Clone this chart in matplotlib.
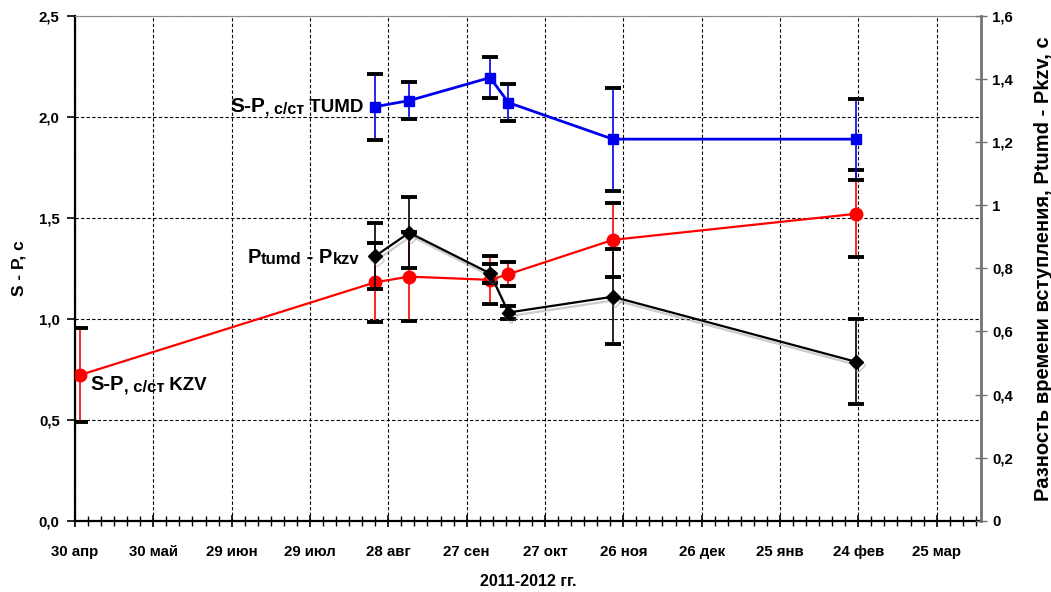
import datetime as dt
import numpy as np
import matplotlib
matplotlib.use('Agg')
import matplotlib.pyplot as plt
import matplotlib.dates as mdates
import matplotlib.patheffects as pe
from matplotlib.ticker import FixedLocator, FuncFormatter

# dates of measurements
dates_kzv = ['2011-05-02', '2011-08-23', '2011-09-05', '2011-10-06',
             '2011-10-13', '2011-11-22', '2012-02-23']
dates_tumd = dates_kzv[1:]

# S-P, station KZV (left axis)
sp_kzv = [0.722, 1.181, 1.209, 1.193, 1.221, 1.391, 1.52]
sp_kzv_err = [0.235, 0.195, 0.22, 0.12, 0.058, 0.185, 0.215]

# S-P, station TUMD (left axis)
sp_tumd = [2.051, 2.081, 2.195, 2.071, 1.89, 1.89]
sp_tumd_err = [0.163, 0.09, 0.103, 0.09, 0.255, 0.2]

# Ptumd - Pkzv (right axis)
dp = [0.839, 0.913, 0.784, 0.66, 0.71, 0.504]
dp_err = [0.106, 0.113, 0.03, 0.02, 0.15, 0.134]

x_start = '2011-04-30'
x_days = 347
tick_labels = ['30 апр', '30 май', '29 июн', '29 июл', '28 авг', '27 сен',
               '27 окт', '26 ноя', '26 дек', '25 янв', '24 фев', '25 мар']

plt.rcParams['font.family'] = ['Liberation Sans', 'DejaVu Sans']
plt.rcParams['font.weight'] = 'bold'


def to_num(ds):
    return mdates.date2num([dt.datetime.strptime(d, '%Y-%m-%d') for d in ds])


t0 = to_num([x_start])[0]
x_kzv = to_num(dates_kzv)
x_tumd = to_num(dates_tumd)

fig = plt.figure(figsize=(10.51, 5.92), dpi=100)
ax = fig.add_axes([75 / 1051, 1 - 520.7 / 592, 906 / 1051, 504.7 / 592])
ax2 = ax.twinx()


def draw(a, x, y, err, color, marker, ms, lw, effects=None):
    line, caps, bars = a.errorbar(x, y, yerr=err, fmt='none', ecolor=color,
                                  elinewidth=1.2, capsize=5.5, capthick=2.8, zorder=3)
    for c in caps:
        c.set_markeredgecolor('black')
        c.set_markerfacecolor('black')
    a.plot(x, y, color=color, lw=lw, marker=marker, ms=ms, zorder=4,
           path_effects=effects)


draw(ax, x_kzv, sp_kzv, sp_kzv_err, '#ff0000', 'o', 9, 1.6)
draw(ax, x_tumd, sp_tumd, sp_tumd_err, '#0000ee', 's', 6.5, 2.0)
shadow = [pe.SimpleLineShadow(offset=(1.5, -2.5), shadow_color='0.5', alpha=0.4), pe.Normal()]
draw(ax2, x_tumd, dp, dp_err, 'black', 'D', 7, 1.6, effects=shadow)

# axes ranges and ticks
ax.set_xlim(t0, t0 + x_days)
ax.set_ylim(0, 2.5)
ax2.set_ylim(0, 1.6)

ax.xaxis.set_major_locator(FixedLocator(t0 + 30 * np.arange(len(tick_labels))))
ax.set_xticklabels(tick_labels)
ax.xaxis.set_minor_locator(FixedLocator(t0 + 5 * np.arange(x_days // 5 + 1)))
ax.set_yticks(np.arange(0, 2.51, 0.5))
ax.yaxis.set_major_formatter(FuncFormatter(lambda v, p: '{:.1f}'.format(v).replace('.', ',')))
ax2.set_yticks(np.arange(0, 1.61, 0.2))
ax2.yaxis.set_major_formatter(FuncFormatter(lambda v, p: '{:g}'.format(round(v, 1)).replace('.', ',')))

ax.tick_params(axis='x', which='major', direction='inout', length=9, width=1.2,
               labelsize=10.8, pad=13)
ax.tick_params(axis='x', which='minor', direction='inout', length=7, width=1.0)
ax.tick_params(axis='y', direction='out', length=6, width=1.2, labelsize=10.8, pad=5)
ax2.tick_params(axis='y', direction='inout', length=8, width=1.0, color='0.45',
                labelsize=10.8, pad=4)

ax.grid(True, which='major', color='black', linestyle=(0, (3, 2)), linewidth=0.8)
ax.set_axisbelow(True)

for s in ['left', 'bottom']:
    ax.spines[s].set_linewidth(1.6)
ax.spines['top'].set_color('0.55')
ax.spines['top'].set_linewidth(0.8)
ax2.spines['right'].set_color('0.45')
ax2.spines['right'].set_linewidth(2.0)
ax2.spines['top'].set_visible(False)
ax2.spines['left'].set_visible(False)
ax2.spines['bottom'].set_visible(False)

ax.set_ylabel('S - P, с', fontsize=12.5, fontweight='bold', labelpad=9)
ax2.set_ylabel('Разность времени вступления, Ptumd - Pkzv, с', fontsize=14.5,
               fontweight='bold', labelpad=15)
ax.set_xlabel('2011-2012 гг.', fontsize=11.5, fontweight='bold', labelpad=11)


def label(x, y, parts):
    t = ax.text(x, y, parts[0][0], fontsize=parts[0][1], fontweight='bold',
                transform=ax.transAxes, va='center', ha='left', zorder=6)
    for txt, size in parts[1:]:
        t = ax.annotate(txt, xy=(1, 0), xycoords=t, va='bottom', ha='left',
                        fontsize=size, fontweight='bold', zorder=6)


label(0.171, 0.82, [('S-P', 15), (', с/ст', 11.5), (' TUMD', 13.5)])
label(0.19, 0.522, [('P', 14.5), ('tumd', 12), (' - P', 14.5), ('kzv', 12)])
label(0.0166, 0.269, [('S-P', 14.5), (', с/ст', 12), (' KZV', 13.5)])

fig.savefig('out.png', dpi=100)
